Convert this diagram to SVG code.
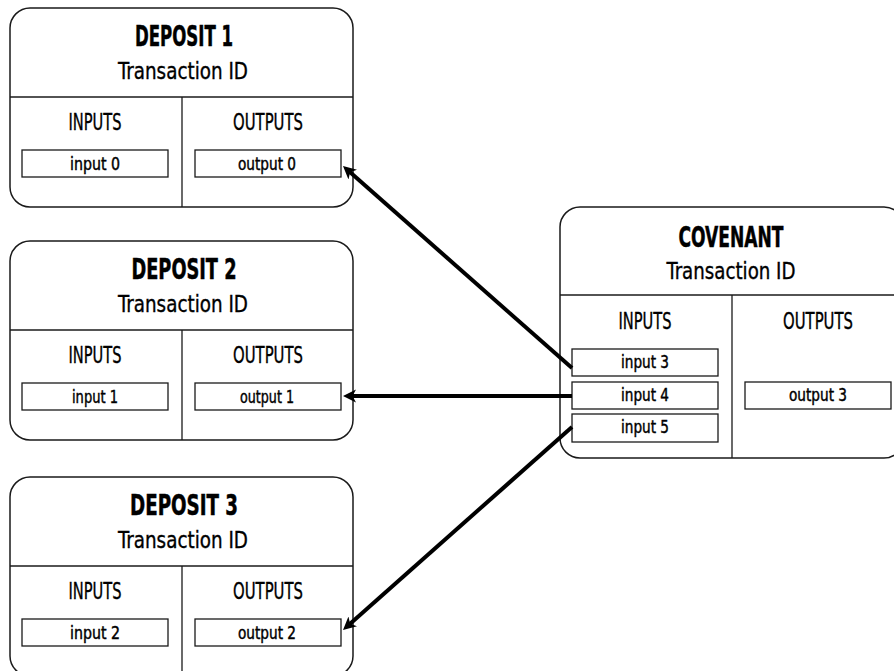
<svg xmlns="http://www.w3.org/2000/svg" width="894" height="671" viewBox="0 0 894 671">
<style>
  .frame{fill:#fff;stroke:#1a1a1a;stroke-width:1.5}
  .div{stroke:#1a1a1a;stroke-width:1.3;fill:none}
  .item{fill:#fff;stroke:#1a1a1a;stroke-width:1.3}
  text{font-family:"Liberation Sans Narrow","DejaVu Sans Condensed","Liberation Sans",sans-serif;fill:#000;text-anchor:middle;stroke:#000;stroke-width:0.35}
  .title{font-size:28px;font-weight:bold;stroke-width:0.5}
  .sub{font-size:23px}
  .hdr{font-size:23px}
  .lbl{font-size:18px;stroke-width:0.45}
  .conn{stroke:#000;stroke-width:4;fill:none;marker-end:url(#arr)}
</style>
<defs>
  <marker id="arr" markerUnits="userSpaceOnUse" markerWidth="14" markerHeight="14" viewBox="0 0 14 14" refX="5" refY="7" orient="auto">
    <path d="M0,0.5 L13,7 L0,13.5 L3.5,7 z" fill="#000"/>
  </marker>
</defs>

<g id="deposit1">
  <rect class="frame" x="10" y="8" width="343" height="199" rx="20"/>
  <line class="div" x1="10" y1="97" x2="353" y2="97"/>
  <line class="div" x1="182" y1="97" x2="182" y2="207"/>
  <text class="title" x="184" y="46" textLength="98" lengthAdjust="spacingAndGlyphs">DEPOSIT 1</text>
  <text class="sub" x="183" y="79" textLength="130" lengthAdjust="spacingAndGlyphs">Transaction ID</text>
  <text class="hdr" x="95" y="130" textLength="53" lengthAdjust="spacingAndGlyphs">INPUTS</text>
  <text class="hdr" x="268" y="130" textLength="70" lengthAdjust="spacingAndGlyphs">OUTPUTS</text>
  <rect class="item" x="22" y="150" width="146" height="27"/>
  <text class="lbl" x="95" y="170" textLength="50" lengthAdjust="spacingAndGlyphs">input 0</text>
  <rect class="item" x="195" y="150" width="146" height="27"/>
  <text class="lbl" x="267" y="170" textLength="58" lengthAdjust="spacingAndGlyphs">output 0</text>
</g>

<g id="deposit2">
  <rect class="frame" x="10" y="241" width="343" height="199" rx="20"/>
  <line class="div" x1="10" y1="330" x2="353" y2="330"/>
  <line class="div" x1="182" y1="330" x2="182" y2="440"/>
  <text class="title" x="184" y="279" textLength="105" lengthAdjust="spacingAndGlyphs">DEPOSIT 2</text>
  <text class="sub" x="183" y="312" textLength="130" lengthAdjust="spacingAndGlyphs">Transaction ID</text>
  <text class="hdr" x="95" y="363" textLength="53" lengthAdjust="spacingAndGlyphs">INPUTS</text>
  <text class="hdr" x="268" y="363" textLength="70" lengthAdjust="spacingAndGlyphs">OUTPUTS</text>
  <rect class="item" x="22" y="383" width="146" height="27"/>
  <text class="lbl" x="95" y="403" textLength="46" lengthAdjust="spacingAndGlyphs">input 1</text>
  <rect class="item" x="195" y="383" width="146" height="27"/>
  <text class="lbl" x="267" y="403" textLength="54" lengthAdjust="spacingAndGlyphs">output 1</text>
</g>

<g id="deposit3">
  <rect class="frame" x="10" y="477" width="343" height="199" rx="20"/>
  <line class="div" x1="10" y1="566" x2="353" y2="566"/>
  <line class="div" x1="182" y1="566" x2="182" y2="676"/>
  <text class="title" x="184" y="515" textLength="108" lengthAdjust="spacingAndGlyphs">DEPOSIT 3</text>
  <text class="sub" x="183" y="548" textLength="130" lengthAdjust="spacingAndGlyphs">Transaction ID</text>
  <text class="hdr" x="95" y="599" textLength="53" lengthAdjust="spacingAndGlyphs">INPUTS</text>
  <text class="hdr" x="268" y="599" textLength="70" lengthAdjust="spacingAndGlyphs">OUTPUTS</text>
  <rect class="item" x="22" y="619" width="146" height="27"/>
  <text class="lbl" x="95" y="639" textLength="50" lengthAdjust="spacingAndGlyphs">input 2</text>
  <rect class="item" x="195" y="619" width="146" height="27"/>
  <text class="lbl" x="267" y="639" textLength="58" lengthAdjust="spacingAndGlyphs">output 2</text>
</g>

<g id="covenant">
  <rect class="frame" x="560" y="207" width="344" height="251" rx="20"/>
  <line class="div" x1="560" y1="295" x2="904" y2="295"/>
  <line class="div" x1="732" y1="295" x2="732" y2="458"/>
  <text class="title" x="731" y="247" textLength="105" lengthAdjust="spacingAndGlyphs">COVENANT</text>
  <text class="sub" x="731" y="279" textLength="129" lengthAdjust="spacingAndGlyphs">Transaction ID</text>
  <text class="hdr" x="645" y="329" textLength="53" lengthAdjust="spacingAndGlyphs">INPUTS</text>
  <text class="hdr" x="818" y="329" textLength="70" lengthAdjust="spacingAndGlyphs">OUTPUTS</text>
  <rect class="item" x="572" y="349" width="146" height="27"/>
  <text class="lbl" x="645" y="368" textLength="48" lengthAdjust="spacingAndGlyphs">input 3</text>
  <rect class="item" x="572" y="382" width="146" height="27"/>
  <text class="lbl" x="645" y="401" textLength="48" lengthAdjust="spacingAndGlyphs">input 4</text>
  <rect class="item" x="572" y="414" width="146" height="28"/>
  <text class="lbl" x="645" y="433" textLength="48" lengthAdjust="spacingAndGlyphs">input 5</text>
  <rect class="item" x="745" y="382" width="146" height="27"/>
  <text class="lbl" x="818" y="401" textLength="58" lengthAdjust="spacingAndGlyphs">output 3</text>
</g>

<g id="connectors">
  <line class="conn" x1="572" y1="368" x2="349" y2="171.3"/>
  <line class="conn" x1="572" y1="396" x2="351" y2="396"/>
  <line class="conn" x1="572" y1="427" x2="349" y2="624.7"/>
</g>
</svg>
